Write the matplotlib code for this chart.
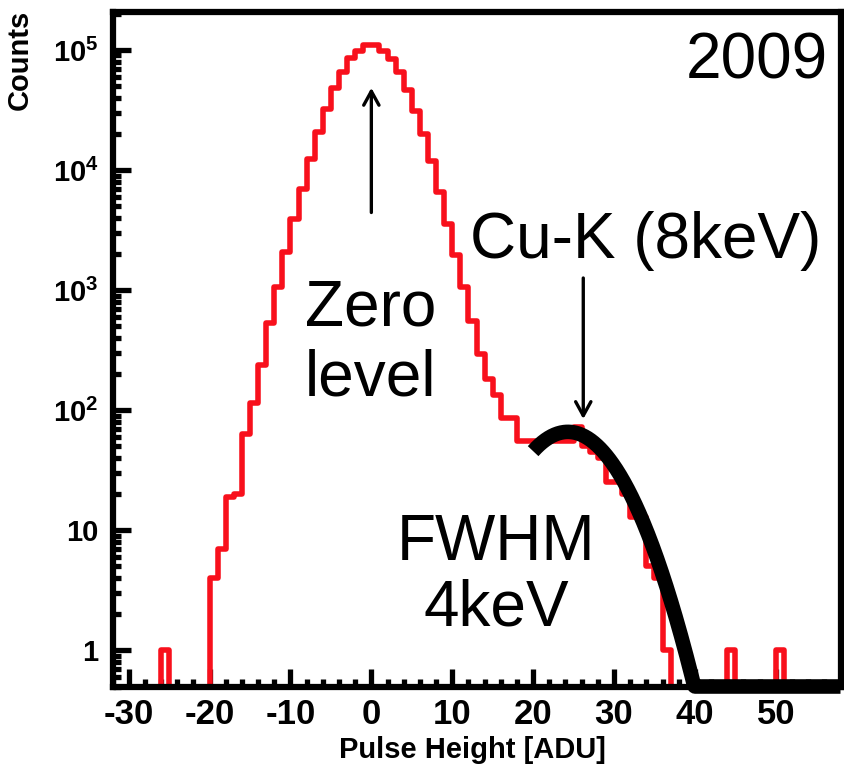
import numpy as np
import matplotlib
matplotlib.use("Agg")
import matplotlib.pyplot as plt
from matplotlib.ticker import FixedLocator, FixedFormatter, MultipleLocator, NullFormatter

# --- values (1 ADU bins) ---
first_edge = -32
counts = [0, 0, 0, 0, 0, 0,
          1,
          0, 0, 0, 0, 0,
          4, 7, 19, 20, 63, 114, 237, 531, 1059, 2073,
          3900, 6940, 12400, 20700, 32200, 48200, 65600, 85300, 98000, 109000,
          109000, 98000, 84000, 65600, 46800, 31000, 19900, 12000, 6620, 3550,
          1970, 1060, 550, 293, 181, 135, 86, 86, 55, 55,
          55, 55, 55, 55, 55, 72, 50, 45, 40, 25, 25, 20, 13, 13, 5, 4, 1,
          0, 0, 0, 0, 0, 0, 0,
          1,
          0, 0, 0, 0, 0,
          1,
          0, 0, 0, 0, 0, 0, 0]

# gaussian fit of the Cu-K line
fit_amp = 66.0
fit_mean = 24.3
fit_sigma = 5.0
fit_lo, fit_hi = 20.0, 58.0

xticks = [-30, -20, -10, 0, 10, 20, 30, 40, 50]
xtick_labels = ["-30", "-20", "-10", "0", "10", "20", "30", "40", "50"]
yticks = [1, 10, 1e2, 1e3, 1e4, 1e5]
ytick_labels = ["1", "10", r"$10^{2}$", r"$10^{3}$", r"$10^{4}$", r"$10^{5}$"]

plt.rcParams["font.family"] = ["Liberation Sans", "DejaVu Sans"]
plt.rcParams["mathtext.fontset"] = "custom"
plt.rcParams["mathtext.rm"] = "Liberation Sans:bold"
plt.rcParams["mathtext.it"] = "Liberation Sans:bold"
plt.rcParams["mathtext.bf"] = "Liberation Sans:bold"

fig = plt.figure(figsize=(8.44, 7.68), dpi=100)
ax = fig.add_axes([112.5 / 844, 81.5 / 768, 728 / 844, 674.5 / 768])

counts = np.array(counts, dtype=float)
edges = first_edge + np.arange(len(counts) + 1)
ax.step(edges, np.append(counts, counts[-1]), where="post",
        color="#f8101c", lw=4.0, zorder=2)

# fit curve, drawn along the frame bottom where it falls below the axis
ymin, ymax = 0.5, 2.07e5
xf = np.linspace(fit_lo, fit_hi, 400)
yf = fit_amp * np.exp(-0.5 * ((xf - fit_mean) / fit_sigma) ** 2)
ax.plot(xf, np.maximum(yf, ymin), color="black", lw=10.5,
        solid_capstyle="butt", zorder=3, clip_on=False)

ax.set_yscale("log")
ax.set_xlim(first_edge, first_edge + len(counts))
ax.set_ylim(ymin, ymax)

ax.xaxis.set_major_locator(FixedLocator(xticks))
ax.xaxis.set_major_formatter(FixedFormatter(xtick_labels))
ax.xaxis.set_minor_locator(MultipleLocator(2))
ax.yaxis.set_major_locator(FixedLocator(yticks))
ax.yaxis.set_major_formatter(FixedFormatter(ytick_labels))
minor_y = [m * 10.0 ** k for k in range(-1, 6) for m in range(2, 10)]
ax.yaxis.set_minor_locator(FixedLocator(minor_y))
ax.yaxis.set_minor_formatter(NullFormatter())

ax.tick_params(which="both", direction="in", top=False, right=False, width=3.8, color="black")
ax.tick_params(which="major", length=13)
ax.tick_params(which="minor", length=5.5)
ax.tick_params(axis="x", which="major", labelsize=25, pad=8)
ax.tick_params(axis="y", which="major", labelsize=21, pad=10)
for lab in ax.get_xticklabels() + ax.get_yticklabels():
    lab.set_fontweight("bold")

for s in ax.spines.values():
    s.set_linewidth(4.5)
    s.set_zorder(4)

# annotations
arrow_style = dict(arrowstyle="->,head_length=1.0,head_width=0.55", lw=2.4, color="black")
ax.annotate("", xy=(0, 5.1e4), xytext=(0, 4.2e3), arrowprops=arrow_style)
ax.annotate("", xy=(26.2, 80), xytext=(26.2, 1.33e3), arrowprops=arrow_style)

big = 46
ax.text(0.983, 0.902, "2009", transform=ax.transAxes, ha="right", va="baseline", fontsize=big)
ax.text(0.733, 0.635, "Cu-K (8keV)", transform=ax.transAxes, ha="center", va="baseline", fontsize=big)
ax.text(0.354, 0.535, "Zero", transform=ax.transAxes, ha="center", va="baseline", fontsize=big)
ax.text(0.354, 0.432, "level", transform=ax.transAxes, ha="center", va="baseline", fontsize=big)
ax.text(0.527, 0.187, "FWHM", transform=ax.transAxes, ha="center", va="baseline", fontsize=big)
ax.text(0.527, 0.090, "4keV", transform=ax.transAxes, ha="center", va="baseline", fontsize=big)

fig.text(20 / 844, 1 - 10 / 768, "Counts", rotation=90, ha="center", va="top",
         fontsize=21, fontweight="bold")
fig.text(472 / 844, 1 - 758 / 768, "Pulse Height [ADU]", ha="center", va="baseline",
         fontsize=21, fontweight="bold")

fig.savefig("out.png", dpi=100)
